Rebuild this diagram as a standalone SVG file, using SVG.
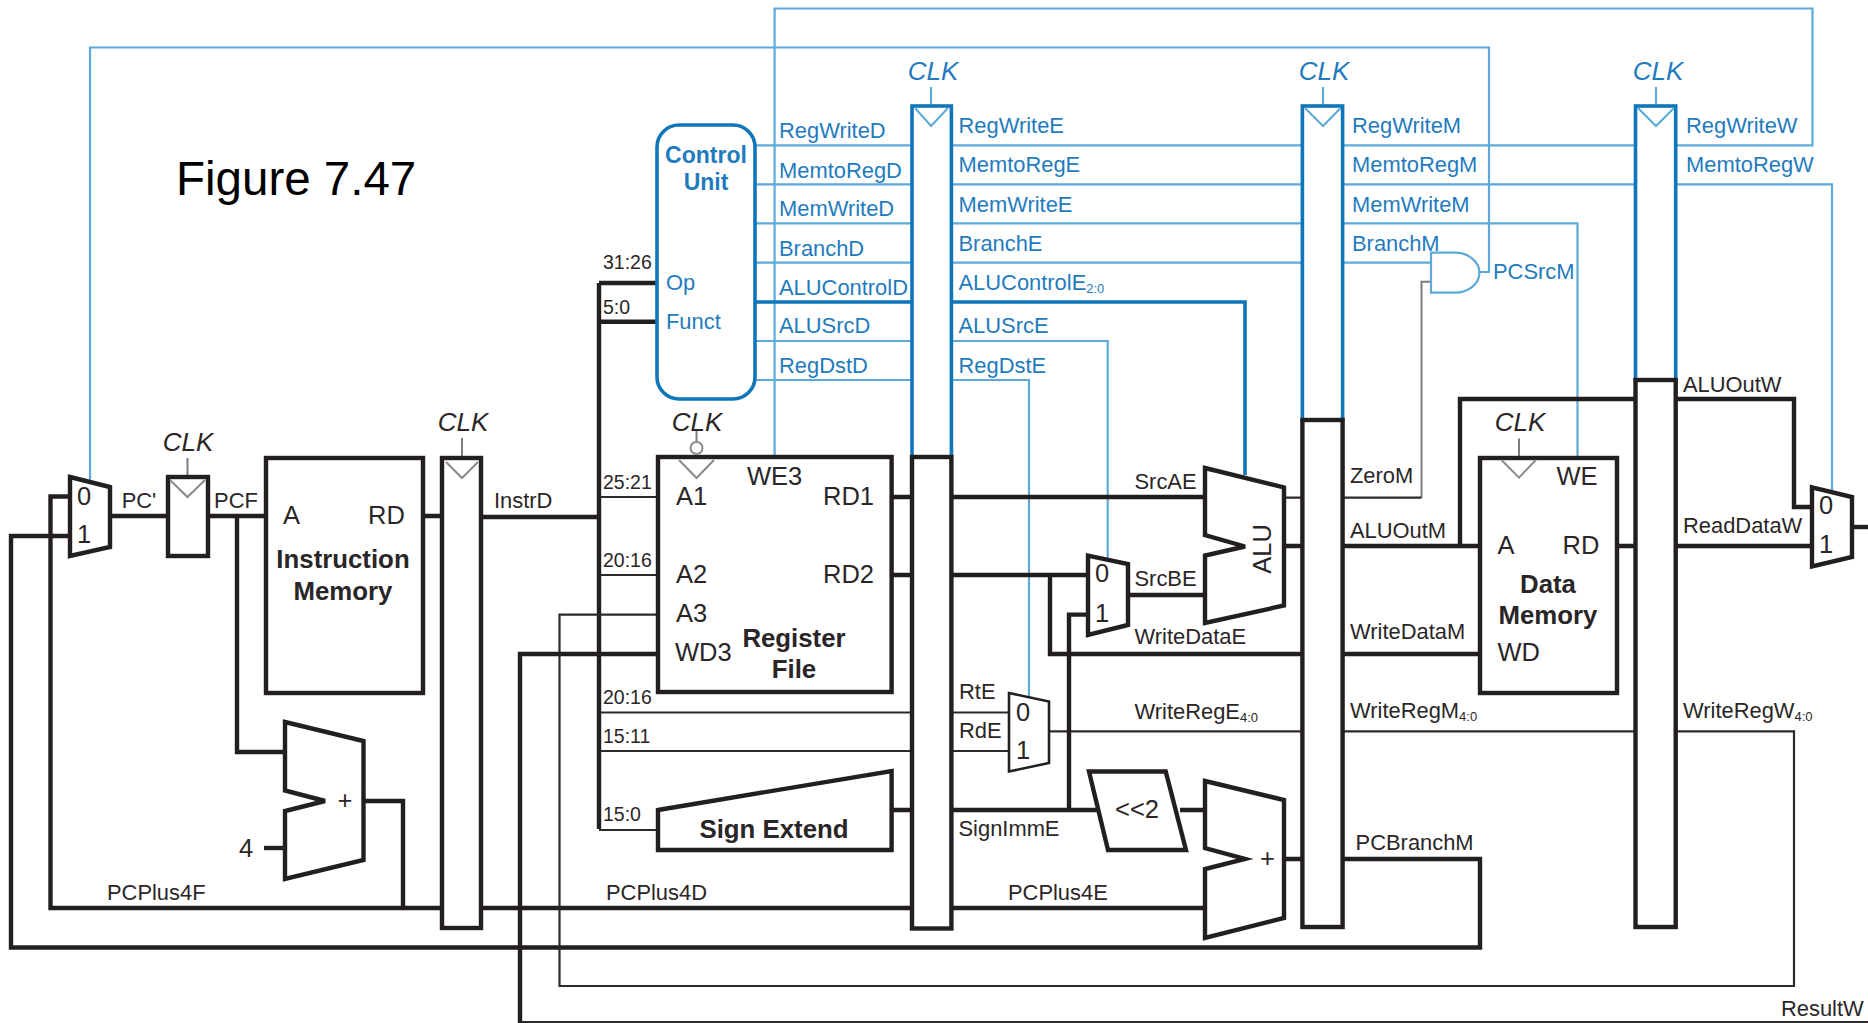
<svg xmlns="http://www.w3.org/2000/svg" width="1868" height="1023" viewBox="0 0 1868 1023">
<style>
text{font-family:"Liberation Sans",Arial,sans-serif;fill:#2a2627}
.s{font-size:21.9px}
.xs{font-size:19.5px}
.b{font-size:25.5px}
.bd{font-size:25.8px;font-weight:bold}
.clk{font-size:26px;font-style:italic}
.c{text-anchor:middle}
.bl{fill:#1f7bbd}
.sub{font-size:13px}
.fig{font-size:47.5px;fill:#000}
path,rect,polygon,polyline,circle{fill:none;stroke-linejoin:miter}
.wb{stroke:#5da9d9;stroke-width:2.2}
.wB{stroke:#0f76b9;stroke-width:3.6}
.wg{stroke:#7d7d7d;stroke-width:2}
.w{stroke:#2e2a2b;stroke-width:2.2}
.W{stroke:#231f20;stroke-width:4.4}
.n{fill:#fff;stroke:#231f20;stroke-width:4.4}
.nt{fill:#fff;stroke:#231f20;stroke-width:2.6}
.nb{fill:#fff;stroke:#0f76b9;stroke-width:3.6}
.tri{stroke:#8a8a8a;stroke-width:2}
.trib{stroke:#5da9d9;stroke-width:2}
</style>
<g id="connectors">
<path class="wb" d="M90 481V47.5H1489V272H1480"/>
<path class="wb" d="M774.6 457V8.5H1812.5V145.3H755"/>
<path class="wb" d="M755 184.3H1832V491"/>
<path class="wb" d="M755 223.3H1577.5V458"/>
<path class="wb" d="M755 262.7H1431"/>
<path class="wB" d="M755 302H1245V475"/>
<path class="wb" d="M755 341H1107.7V559"/>
<path class="wb" d="M755 380H1029V697"/>
<path class="wb" d="M931 87V106M1323 87V106M1656 87V106"/>
<path class="wg" d="M1421.5 497.7V281.7H1431"/>
<path class="wg" d="M187.5 458V477M462 438V458M1519 438.6V458M696.5 431V442"/>
<path class="W" d="M110 516H168M208 516H266M423 516H442M481 517H599"/>
<path class="W" d="M237 516V752H285"/>
<path class="W" d="M264 848H285"/>
<path class="W" d="M363 801H403V908"/>
<path class="W" d="M70 496.5H50.5V908H1205"/>
<path class="W" d="M70 536H11V947.5H1480V859H1284"/>
<path class="W" d="M599 829V283M599 283H658M599 321.7H658"/>
<path class="w" d="M599 497H658M599 575H658M599 712.5H1009M599 751H1009M599 830H658"/>
<path class="w" d="M658 614.6H559.5V986H1794V731.4H1049"/>
<path class="w" d="M1868 1022H520"/>
<path class="W" d="M520 1023V654H658"/>
<path class="W" d="M891 497H1205M891 575H1088"/>
<path class="W" d="M1050 575V654H1480"/>
<path class="W" d="M1088 614.6H1069V810"/>
<path class="W" d="M1128 595H1205"/>
<path class="W" d="M891 810H1098M1180 810H1205"/>
<path class="w" d="M1284 497.7H1421.5"/>
<path class="W" d="M1284 546H1480M1460 546V399H1794V507H1812"/>
<path class="W" d="M1617 546H1812"/>
<path class="W" d="M1852 527H1868"/>
</g>
<g id="pc-mux">
<polygon class="n" points="70,477 110,487 110,547 70,556"/>
<text class="b c" x="84" y="505">0</text>
<text class="b c" x="84" y="543">1</text>
</g>
<g id="pc-register">
<rect class="n" x="168" y="477" width="40" height="79"/>
<polyline class="tri" points="170,480 187.5,497 205,480"/>
<text class="clk c" x="188" y="451">CLK</text>
</g>
<g id="instruction-memory">
<rect class="n" x="266" y="458" width="157" height="235"/>
<text class="b" x="283" y="524">A</text>
<text class="b" x="368" y="524">RD</text>
<text class="bd c" x="343" y="568">Instruction</text>
<text class="bd c" x="343" y="600">Memory</text>
</g>
<g id="pc-adder">
<polygon class="n" points="285,722 363.5,741 363.5,860 285,879 285,811 325,801 285,790.5"/>
<text class="b c" x="345" y="809">+</text>
<text class="b c" x="246" y="857">4</text>
</g>
<g id="reg-fd">
<rect class="n" x="442" y="458" width="39" height="470"/>
<polyline class="tri" points="446,462 462,478 478,462"/>
<text class="clk c" x="463" y="431">CLK</text>
</g>
<g id="control-unit">
<rect class="nb" x="657" y="125" width="98" height="274" rx="22"/>
<text class="bd c bl" style="font-size:23px" x="706" y="163">Control</text>
<text class="bd c bl" style="font-size:23px" x="706" y="190">Unit</text>
<text class="s bl" x="666" y="290">Op</text>
<text class="s bl" x="666" y="329">Funct</text>
</g>
<g id="register-file">
<rect class="n" x="658" y="457" width="233.6" height="235"/>
<circle class="tri" cx="696.5" cy="448" r="6"/>
<polyline class="tri" points="679,460 696.5,478 714,460"/>
<text class="clk c" x="697" y="431">CLK</text>
<text class="b" x="747" y="485">WE3</text>
<text class="b" x="676" y="505">A1</text>
<text class="b" x="676" y="583">A2</text>
<text class="b" x="676" y="622">A3</text>
<text class="b" x="675" y="661">WD3</text>
<text class="b" x="823" y="505">RD1</text>
<text class="b" x="823" y="583">RD2</text>
<text class="bd c" x="794" y="647">Register</text>
<text class="bd c" x="794" y="678">File</text>
</g>
<g id="sign-extend">
<polygon class="n" points="658,810 891.6,771 891.6,850 658,850"/>
<text class="bd c" x="774" y="838">Sign Extend</text>
</g>
<g id="reg-de">
<rect class="nb" x="912" y="106" width="39.4" height="351"/>
<rect class="n" x="912" y="457" width="39.4" height="471.5"/>
<polyline class="trib" points="915,108 931,126 948,108"/>
<text class="clk c bl" x="933" y="80">CLK</text>
</g>
<g id="regdst-mux">
<polygon class="nt" points="1009,693 1049,701.6 1049,763 1009,771.5"/>
<text class="b c" x="1023" y="720.5">0</text>
<text class="b c" x="1023" y="759">1</text>
</g>
<g id="alusrc-mux">
<polygon class="n" points="1088,555.6 1128,564 1128,625 1088,635"/>
<text class="b c" x="1102" y="582">0</text>
<text class="b c" x="1102" y="622">1</text>
</g>
<g id="alu">
<polygon class="n" points="1205,468 1284,487.4 1284,605.5 1205,623 1205,555.6 1245,546.5 1205,535"/>
<text class="b c" transform="translate(1271 549) rotate(-90)">ALU</text>
</g>
<g id="shift-left">
<polygon class="n" points="1089,771.5 1165.7,771.5 1186,850 1108,850"/>
<text class="b c" x="1137" y="818">&lt;&lt;2</text>
</g>
<g id="branch-adder">
<polygon class="n" points="1205,781 1284,800 1284,918 1205,938 1205,869 1245,859 1205,848"/>
<text class="b c" x="1267.5" y="867">+</text>
</g>
<g id="reg-em">
<rect class="nb" x="1302.4" y="106" width="40.2" height="314"/>
<rect class="n" x="1302.4" y="420" width="40.2" height="507"/>
<polyline class="trib" points="1305,108 1323,126 1340.6,108"/>
<text class="clk c bl" x="1324" y="80">CLK</text>
</g>
<g id="and-gate">
<path class="wb" style="fill:#fff" d="M1431 252.7H1455A24.4 20 0 0 1 1455 292.7H1431Z"/>
</g>
<g id="data-memory">
<rect class="n" x="1480" y="458" width="137" height="235"/>
<polyline class="tri" points="1501.5,460 1519,477.6 1535.8,460"/>
<text class="clk c" x="1520" y="431">CLK</text>
<text class="b" x="1556.5" y="484.5">WE</text>
<text class="b" x="1497.5" y="553.5">A</text>
<text class="b" x="1562.6" y="553.5">RD</text>
<text class="b" x="1497.5" y="661">WD</text>
<text class="bd c" x="1548" y="593">Data</text>
<text class="bd c" x="1548" y="624">Memory</text>
</g>
<g id="reg-mw">
<rect class="nb" x="1635.5" y="106" width="40.2" height="274"/>
<rect class="n" x="1635.5" y="380" width="40.2" height="547"/>
<polyline class="trib" points="1638,108 1656,126 1674,108"/>
<text class="clk c bl" x="1658" y="80">CLK</text>
</g>
<g id="memtoreg-mux">
<polygon class="n" points="1812,487.4 1852,497 1852,557 1812,566.5"/>
<text class="b c" x="1826" y="514">0</text>
<text class="b c" x="1826" y="553">1</text>
</g>
<g id="labels">
<text class="fig" x="176" y="194.5">Figure 7.47</text>
<text class="s c" x="139" y="508">PC'</text>
<text class="s c" x="236" y="508">PCF</text>
<text class="s" x="494" y="508">InstrD</text>
<text class="s" x="107" y="900">PCPlus4F</text>
<text class="s" x="606" y="900">PCPlus4D</text>
<text class="s" x="1008" y="900">PCPlus4E</text>
<text class="xs" x="603" y="269">31:26</text>
<text class="xs" x="603" y="314">5:0</text>
<text class="xs" x="603" y="488.6">25:21</text>
<text class="xs" x="603" y="567">20:16</text>
<text class="xs" x="603" y="704">20:16</text>
<text class="xs" x="603" y="743">15:11</text>
<text class="xs" x="603" y="821">15:0</text>
<text class="s bl" x="779" y="138">RegWriteD</text>
<text class="s bl" x="779" y="177.5">MemtoRegD</text>
<text class="s bl" x="779" y="216">MemWriteD</text>
<text class="s bl" x="779" y="255.5">BranchD</text>
<text class="s bl" x="779" y="294.5">ALUControlD</text>
<text class="s bl" x="779" y="333">ALUSrcD</text>
<text class="s bl" x="779" y="373">RegDstD</text>
<text class="s bl" x="958.5" y="133">RegWriteE</text>
<text class="s bl" x="958.5" y="172">MemtoRegE</text>
<text class="s bl" x="958.5" y="211.5">MemWriteE</text>
<text class="s bl" x="958.5" y="251">BranchE</text>
<text class="s bl" x="958.5" y="290">ALUControlE<tspan class="sub" dy="3">2:0</tspan></text>
<text class="s bl" x="958.5" y="333">ALUSrcE</text>
<text class="s bl" x="958.5" y="373">RegDstE</text>
<text class="s bl" x="1352" y="133">RegWriteM</text>
<text class="s bl" x="1352" y="172">MemtoRegM</text>
<text class="s bl" x="1352" y="211.5">MemWriteM</text>
<text class="s bl" x="1352" y="251">BranchM</text>
<text class="s bl" x="1493" y="279">PCSrcM</text>
<text class="s bl" x="1686" y="133">RegWriteW</text>
<text class="s bl" x="1686" y="172">MemtoRegW</text>
<text class="s" x="1134.5" y="488.6">SrcAE</text>
<text class="s" x="1134.5" y="586">SrcBE</text>
<text class="s" x="1134.5" y="643.5">WriteDataE</text>
<text class="s" x="1134.5" y="719">WriteRegE<tspan class="sub" dy="3">4:0</tspan></text>
<text class="s" x="959" y="698.5">RtE</text>
<text class="s" x="959" y="738">RdE</text>
<text class="s" x="958.5" y="836">SignImmE</text>
<text class="s" x="1350" y="483">ZeroM</text>
<text class="s" x="1350" y="537.5">ALUOutM</text>
<text class="s" x="1350" y="639">WriteDataM</text>
<text class="s" x="1350" y="718">WriteRegM<tspan class="sub" dy="3">4:0</tspan></text>
<text class="s" x="1355.6" y="850">PCBranchM</text>
<text class="s" x="1683" y="392">ALUOutW</text>
<text class="s" x="1683" y="533">ReadDataW</text>
<text class="s" x="1683" y="718">WriteRegW<tspan class="sub" dy="3">4:0</tspan></text>
<text class="s" x="1781" y="1016">ResultW</text>
</g>
</svg>
